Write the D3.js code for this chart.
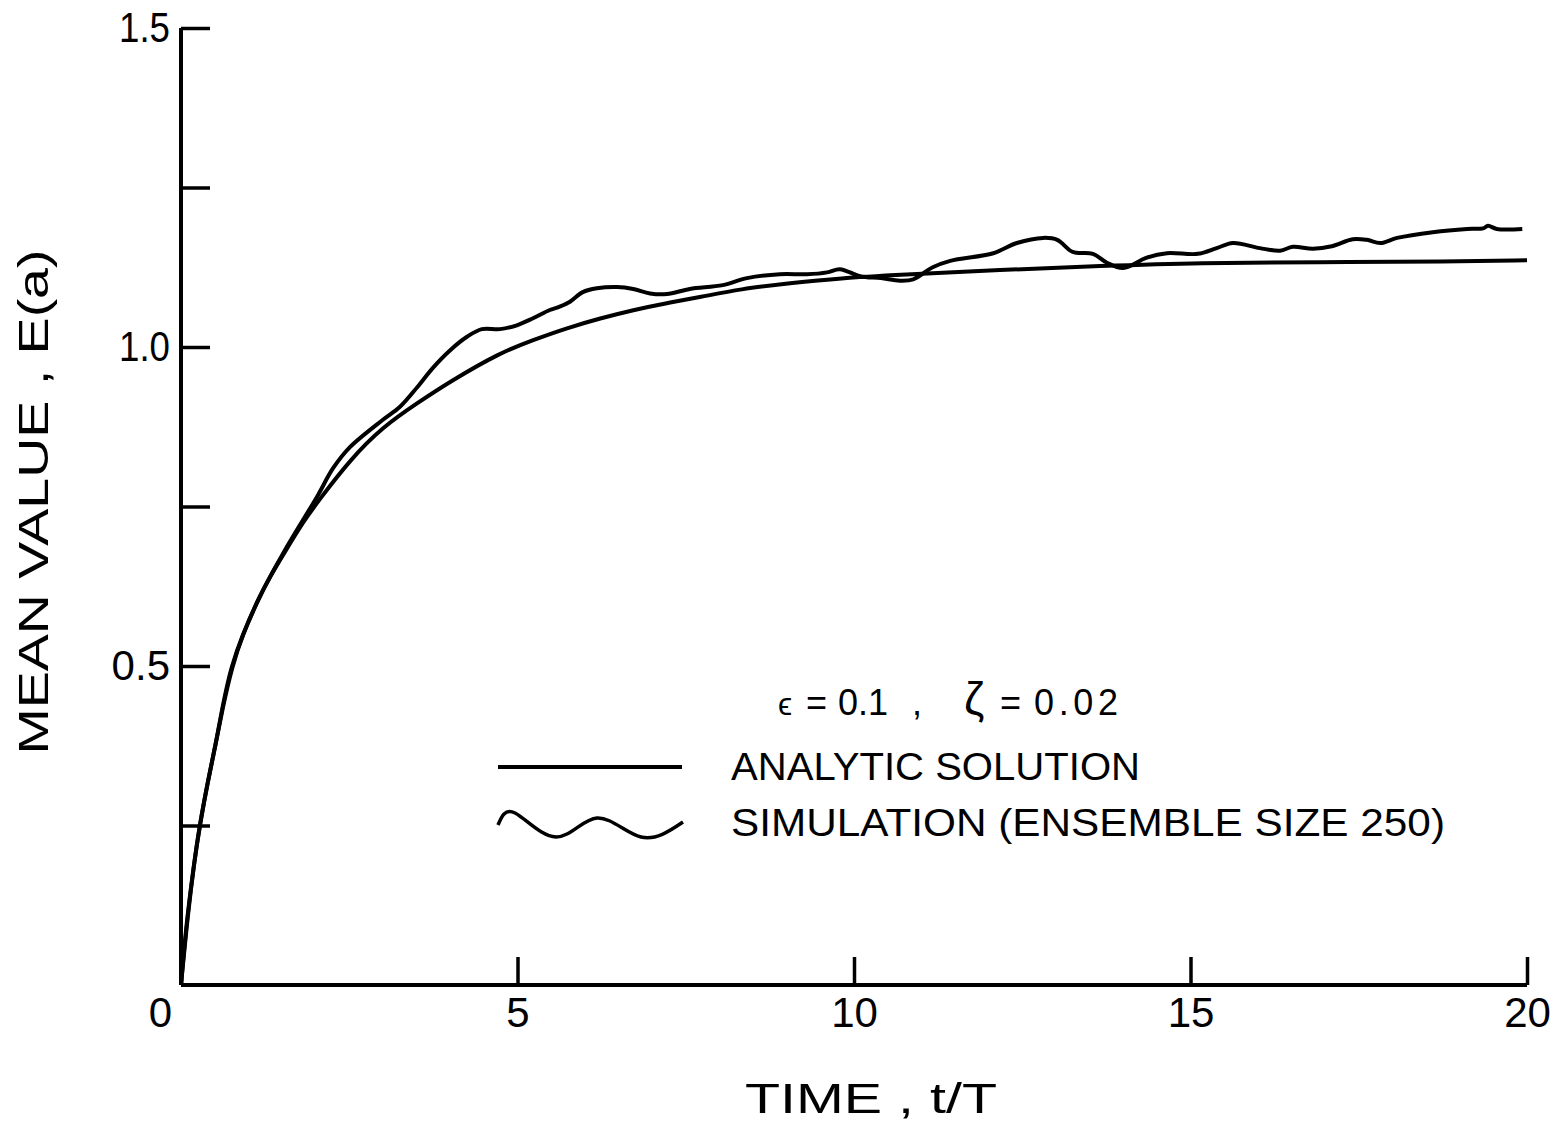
<!DOCTYPE html>
<html>
<head>
<meta charset="utf-8">
<script src="https://cdn.jsdelivr.net/npm/d3@7"></script>
<style>
  body { margin: 0; background: #fff; }
  text { font-family: "Liberation Sans", "DejaVu Sans", sans-serif; fill: #000; }
</style>
</head>
<body>
<svg id="plot" width="1562" height="1125"></svg>
<script>
// analytic solution
var tAnalytic = [0, 0.1, 0.2, 0.28, 0.4, 0.5, 0.62, 0.76, 0.92, 1.13, 1.32, 1.58, 1.81, 2.05,
                 2.51, 3.0, 3.51, 4.0, 4.74, 5.23, 5.74, 6.23, 6.72, 7.22, 7.71, 8.31, 9.05,
                 9.79, 10.68, 12.17, 13.66, 15.14, 16.88, 18.86, 20.0];
var eAnalytic = [0, 0.11, 0.195, 0.25, 0.32, 0.37, 0.435, 0.5, 0.55, 0.6, 0.64, 0.685, 0.725, 0.76,
                 0.823, 0.875, 0.912, 0.946, 0.991, 1.011, 1.03, 1.045, 1.058, 1.069, 1.078, 1.091, 1.1,
                 1.108, 1.113, 1.121, 1.127, 1.132, 1.133, 1.134, 1.136];

// simulation, ensemble size 250
var tSim = [0, 0.1, 0.28, 0.5, 0.76, 1.13, 1.58, 2.02, 2.26, 2.51, 3.0, 3.25, 3.51, 3.74, 4.0,
            4.25, 4.47, 4.74, 4.99, 5.23, 5.48, 5.6, 5.78, 5.97, 6.18, 6.48, 6.72, 6.97, 7.22,
            7.56, 8.05, 8.41, 8.9, 9.3, 9.6, 9.79, 10.09, 10.4, 10.68, 10.88, 11.17, 11.43,
            12.07, 12.42, 12.81, 13.02, 13.25, 13.55, 13.76, 14.0, 14.35, 14.65, 15.11, 15.39,
            15.63, 16.03, 16.33, 16.52, 16.82, 17.1, 17.41, 17.62, 17.82, 18.07, 18.6, 19.11,
            19.35, 19.42, 19.55, 19.93];
var eSim = [0, 0.11, 0.25, 0.37, 0.5, 0.6, 0.688, 0.765, 0.81, 0.843, 0.886, 0.906, 0.937, 0.967, 0.995,
            1.016, 1.028, 1.028, 1.034, 1.045, 1.058, 1.062, 1.071, 1.086, 1.092, 1.094, 1.091, 1.084, 1.083,
            1.091, 1.097, 1.108, 1.114, 1.114, 1.117, 1.122, 1.111, 1.108, 1.104, 1.106, 1.125, 1.135,
            1.147, 1.163, 1.171, 1.168, 1.149, 1.146, 1.132, 1.124, 1.14, 1.147, 1.146, 1.155,
            1.163, 1.155, 1.151, 1.157, 1.154, 1.158, 1.169, 1.168, 1.163, 1.171, 1.18, 1.185,
            1.186, 1.19, 1.185, 1.185];

// axis ticks
var xTicks = [0, 5, 10, 15, 20];
var yTicks = [0.25, 0.5, 0.75, 1.0, 1.25, 1.5];
var yLabelled = [0.5, 1.0, 1.5];

var svg = d3.select("#plot");

var x = d3.scaleLinear().domain([0, 20]).range([181, 1527]);
var y = d3.scaleLinear().domain([0, 1.5]).range([985, 28]);

// axes, ticks pointing inward
var xAxis = d3.axisBottom(x)
              .tickValues(xTicks)
              .tickSizeInner(-28)
              .tickSizeOuter(0)
              .tickPadding(12)
              .tickFormat(d3.format("d"));

var yAxis = d3.axisLeft(y)
              .tickValues(yTicks)
              .tickSizeInner(-29)
              .tickSizeOuter(0)
              .tickPadding(11)
              .tickFormat(function(d){ return yLabelled.indexOf(d) >= 0 ? d3.format(".1f")(d) : ""; });

var gx = svg.append("g").attr("transform", "translate(0,985)").call(xAxis);
var gy = svg.append("g").attr("transform", "translate(181,0)").call(yAxis);

gx.select(".domain").attr("stroke-width", 4).attr("d", "M" + x(0) + ",0H" + x(20));
gy.select(".domain").attr("stroke-width", 4).attr("d", "M0," + y(0) + "V" + y(1.5));
svg.selectAll(".tick line").attr("stroke-width", 3.5);
svg.selectAll(".tick text")
   .attr("font-family", "Liberation Sans, sans-serif")
   .attr("font-size", 42);
gx.selectAll(".tick text").attr("dy", "0.72em");
// the zero sits left of the corner
gx.selectAll(".tick").filter(function(d){ return d === 0; })
  .select("text").attr("x", -21);
// narrow "1" in the original lettering
gy.selectAll(".tick").filter(function(d){ return d === 1.0 || d === 1.5; })
  .select("text").attr("textLength", 51).attr("lengthAdjust", "spacingAndGlyphs");

// curves
var lineA = d3.line()
              .x(function(d){ return x(d[0]); })
              .y(function(d){ return y(d[1]); })
              .curve(d3.curveBasis);
var lineS = d3.line()
              .x(function(d){ return x(d[0]); })
              .y(function(d){ return y(d[1]); })
              .curve(d3.curveCatmullRom.alpha(0.5));

svg.append("path")
   .datum(d3.zip(tAnalytic, eAnalytic))
   .attr("d", lineA)
   .attr("fill", "none")
   .attr("stroke", "#000")
   .attr("stroke-width", 4);

svg.append("path")
   .datum(d3.zip(tSim, eSim))
   .attr("d", lineS)
   .attr("fill", "none")
   .attr("stroke", "#000")
   .attr("stroke-width", 4);

// axis titles
svg.append("text")
   .attr("x", 871).attr("y", 1113)
   .attr("text-anchor", "middle")
   .attr("font-size", 42)
   .attr("textLength", 252).attr("lengthAdjust", "spacingAndGlyphs")
   .text("TIME , t/T");

svg.append("text")
   .attr("transform", "translate(48,502) rotate(-90)")
   .attr("text-anchor", "middle")
   .attr("font-size", 42)
   .attr("textLength", 505).attr("lengthAdjust", "spacingAndGlyphs")
   .text("MEAN VALUE , E(a)");

// parameters
var par = svg.append("text").attr("y", 715).attr("font-size", 36);
par.append("tspan").attr("x", 778).attr("font-size", 32).text("ϵ");
par.append("tspan").attr("x", 806).text("=");
par.append("tspan").attr("x", 838).text("0.1");
par.append("tspan").attr("x", 912).text(",");
par.append("tspan").attr("x", 964).attr("font-size", 46).text("ζ");
par.append("tspan").attr("x", 1000).text("=");
par.append("tspan").attr("x", 1034).attr("textLength", 84).attr("lengthAdjust", "spacing").text("0.02");

// legend
svg.append("line")
   .attr("x1", 498).attr("x2", 682)
   .attr("y1", 767).attr("y2", 767)
   .attr("stroke", "#000").attr("stroke-width", 4);

var waveDx = [0, 17, 58, 99, 143, 185];
var waveDy = [2, -10, 14, -5, 14, -1];
svg.append("path")
   .datum(d3.zip(waveDx, waveDy))
   .attr("transform", "translate(498,823)")
   .attr("d", d3.line().curve(d3.curveNatural))
   .attr("fill", "none")
   .attr("stroke", "#000")
   .attr("stroke-width", 3.5);

svg.append("text")
   .attr("x", 731).attr("y", 780)
   .attr("font-size", 38)
   .attr("textLength", 409).attr("lengthAdjust", "spacingAndGlyphs")
   .text("ANALYTIC SOLUTION");

svg.append("text")
   .attr("x", 731).attr("y", 836)
   .attr("font-size", 38)
   .attr("textLength", 714).attr("lengthAdjust", "spacingAndGlyphs")
   .text("SIMULATION (ENSEMBLE SIZE 250)");
</script>
</body>
</html>
